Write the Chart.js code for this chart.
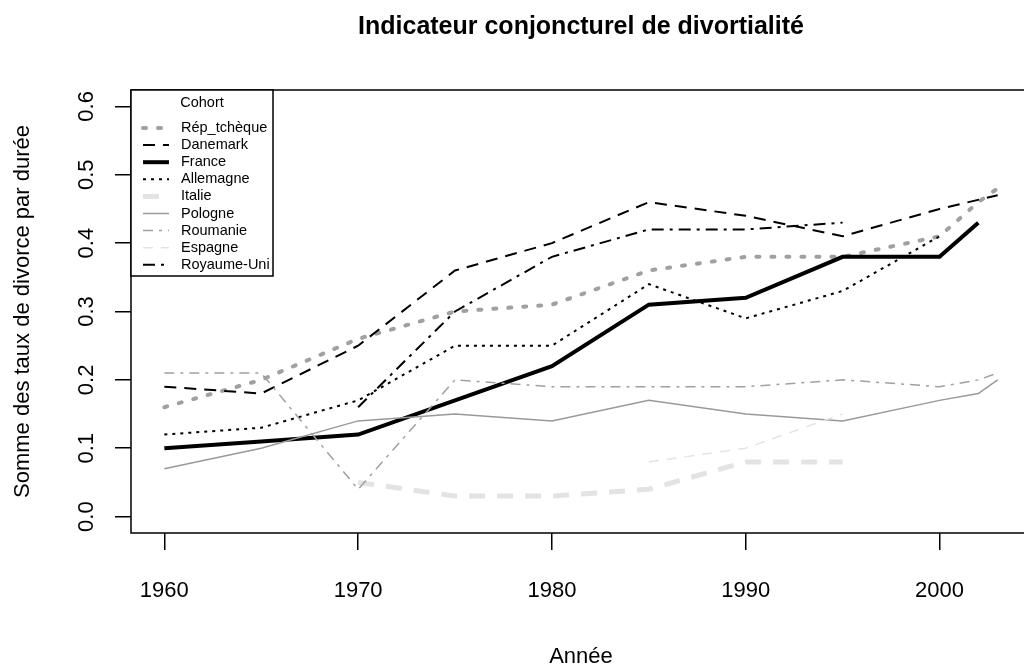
<!DOCTYPE html>
<html>
<head>
<meta charset="utf-8">
<script src="https://cdn.jsdelivr.net/npm/chart.js@4"></script>
<style>
  html, body { margin: 0; padding: 0; background: #fff; overflow: hidden; }
  #wrap { width: 1040px; height: 666px; }
</style>
</head>
<body>
<div id="wrap"><canvas id="divorce" width="1040" height="666"></canvas></div>
<script>
// données
const years = [1960, 1965, 1970, 1975, 1980, 1985, 1990, 1995, 2000, 2002, 2003];
const repTcheque = [0.16, 0.20, 0.26, 0.30, 0.31, 0.36, 0.38, 0.38, 0.41, 0.46, 0.48];
const danemark   = [0.19, 0.18, 0.25, 0.36, 0.40, 0.46, 0.44, 0.41, 0.45, null, 0.47];
const france     = [0.10, 0.11, 0.12, 0.17, 0.22, 0.31, 0.32, 0.38, 0.38, 0.43, null];
const allemagne  = [0.12, 0.13, 0.17, 0.25, 0.25, 0.34, 0.29, 0.33, 0.41, null, null];
const italie     = [null, null, 0.05, 0.03, 0.03, 0.04, 0.08, 0.08, null, null, null];
const pologne    = [0.07, 0.10, 0.14, 0.15, 0.14, 0.17, 0.15, 0.14, 0.17, 0.18, 0.20];
const roumanie   = [0.21, 0.21, 0.04, 0.20, 0.19, 0.19, 0.19, 0.20, 0.19, 0.20, 0.21];
const espagne    = [null, null, null, null, null, 0.08, 0.10, 0.15, null, null, null];
const royaumeUni = [null, null, 0.16, 0.30, 0.38, 0.42, 0.42, 0.43, null, null, null];

const countries = ['Rép_tchèque', 'Danemark', 'France', 'Allemagne', 'Italie',
                   'Pologne', 'Roumanie', 'Espagne', 'Royaume-Uni'];
const xTicks = [1960, 1970, 1980, 1990, 2000];
const yTicks = [0.0, 0.1, 0.2, 0.3, 0.4, 0.5, 0.6];

const series = [repTcheque, danemark, france, allemagne, italie, pologne, roumanie, espagne, royaumeUni];

// style de chaque courbe (couleur, épaisseur, tirets)
const styles = [
  { color: '#a0a0a0', width: 4,   dash: [3, 12], cap: 'round' },
  { color: '#000000', width: 2,   dash: [12, 8], cap: 'butt' },
  { color: '#000000', width: 4,   dash: [], cap: 'butt' },
  { color: '#000000', width: 2,   dash: [3, 5], cap: 'butt' },
  { color: '#e3e3e3', width: 5,   dash: [16, 12], cap: 'butt' },
  { color: '#999999', width: 1.5, dash: [], cap: 'butt' },
  { color: '#a0a0a0', width: 1.5, dash: [10, 6, 3, 6], cap: 'butt' },
  { color: '#e3e3e3', width: 1.5, dash: [10, 8], cap: 'butt' },
  { color: '#000000', width: 2,   dash: [12, 6, 3, 6], cap: 'butt' }
];

const FONT = "'Liberation Sans', Arial, sans-serif";

const datasets = countries.map((name, i) => ({
  label: name,
  data: years.map((x, j) => ({ x: x, y: series[i][j] })),
  borderColor: styles[i].color,
  borderWidth: styles[i].width,
  borderDash: styles[i].dash,
  borderCapStyle: styles[i].cap,
  pointRadius: 0,
  tension: 0,
  spanGaps: true,
  fill: false,
  order: countries.length - i
}));

// cadre, titres, étiquettes de l'axe y et légende façon R
const decor = {
  id: 'decor',
  afterDraw(chart) {
    const ctx = chart.ctx;
    const a = chart.chartArea;
    const ys = chart.scales.y;
    ctx.save();
    ctx.strokeStyle = '#000';
    ctx.lineWidth = 1.5;
    ctx.setLineDash([]);
    ctx.strokeRect(a.left, a.top, a.right - a.left, a.bottom - a.top);

    ctx.fillStyle = '#000';
    ctx.textAlign = 'center';
    ctx.textBaseline = 'middle';
    ctx.font = 'bold 25px ' + FONT;
    ctx.fillText('Indicateur conjoncturel de divortialité', (a.left + a.right) / 2, 27);

    ctx.font = '22px ' + FONT;
    ctx.fillText('Année', (a.left + a.right) / 2, 657);

    // étiquettes y verticales
    yTicks.forEach(v => {
      const py = ys.getPixelForValue(v);
      ctx.save();
      ctx.translate(87, py);
      ctx.rotate(-Math.PI / 2);
      ctx.fillText(v.toFixed(1), 0, 0);
      ctx.restore();
    });
    ctx.save();
    ctx.translate(23, (a.top + a.bottom) / 2);
    ctx.rotate(-Math.PI / 2);
    ctx.fillText('Somme des taux de divorce par durée', 0, 0);
    ctx.restore();

    // légende
    const lx = a.left, ly = a.top, lw = 142, lh = 186;
    ctx.fillStyle = '#fff';
    ctx.fillRect(lx, ly, lw, lh);
    ctx.strokeStyle = '#000';
    ctx.lineWidth = 1.5;
    ctx.strokeRect(lx, ly, lw, lh);
    ctx.fillStyle = '#000';
    ctx.font = '14.5px ' + FONT;
    ctx.textAlign = 'center';
    ctx.fillText('Cohort', lx + lw / 2, ly + 13);
    ctx.textAlign = 'left';
    chart.data.datasets.forEach((ds, i) => {
      const ry = ly + 38 + i * 17.1;
      ctx.beginPath();
      ctx.strokeStyle = ds.borderColor;
      ctx.lineWidth = ds.borderWidth;
      ctx.lineCap = ds.borderCapStyle;
      ctx.setLineDash(ds.borderDash);
      ctx.moveTo(lx + 12, ry);
      ctx.lineTo(lx + 38, ry);
      ctx.stroke();
      ctx.setLineDash([]);
      ctx.lineCap = 'butt';
      ctx.fillStyle = '#000';
      ctx.fillText(ds.label, lx + 50, ry);
    });
    ctx.restore();
  }
};

new Chart(document.getElementById('divorce'), {
  type: 'line',
  data: { datasets: datasets },
  options: {
    responsive: false,
    devicePixelRatio: 1,
    animation: false,
    layout: { padding: { top: 90, right: 9, bottom: 0, left: 0 } },
    plugins: {
      legend: { display: false },
      title: { display: false },
      tooltip: { enabled: false }
    },
    scales: {
      x: {
        type: 'linear',
        min: 1958.28,
        max: 2004.72,
        afterFit: s => { s.height = 133; },
        afterBuildTicks: s => { s.ticks = xTicks.map(v => ({ value: v })); },
        ticks: {
          callback: v => String(v),
          color: '#000',
          padding: 28,
          maxRotation: 0,
          font: { family: FONT, size: 22 }
        },
        grid: { drawOnChartArea: false, drawTicks: true, tickLength: 17, color: '#000', lineWidth: 1.5 },
        border: { display: false }
      },
      y: {
        type: 'linear',
        min: -0.024,
        max: 0.624,
        afterFit: s => { s.width = 131; },
        afterBuildTicks: s => { s.ticks = yTicks.map(v => ({ value: v })); },
        ticks: {
          callback: v => v.toFixed(1),
          color: 'rgba(0,0,0,0)',
          font: { family: FONT, size: 22 }
        },
        grid: { drawOnChartArea: false, drawTicks: true, tickLength: 16, color: '#000', lineWidth: 1.5 },
        border: { display: false }
      }
    }
  },
  plugins: [decor]
});
</script>
</body>
</html>
